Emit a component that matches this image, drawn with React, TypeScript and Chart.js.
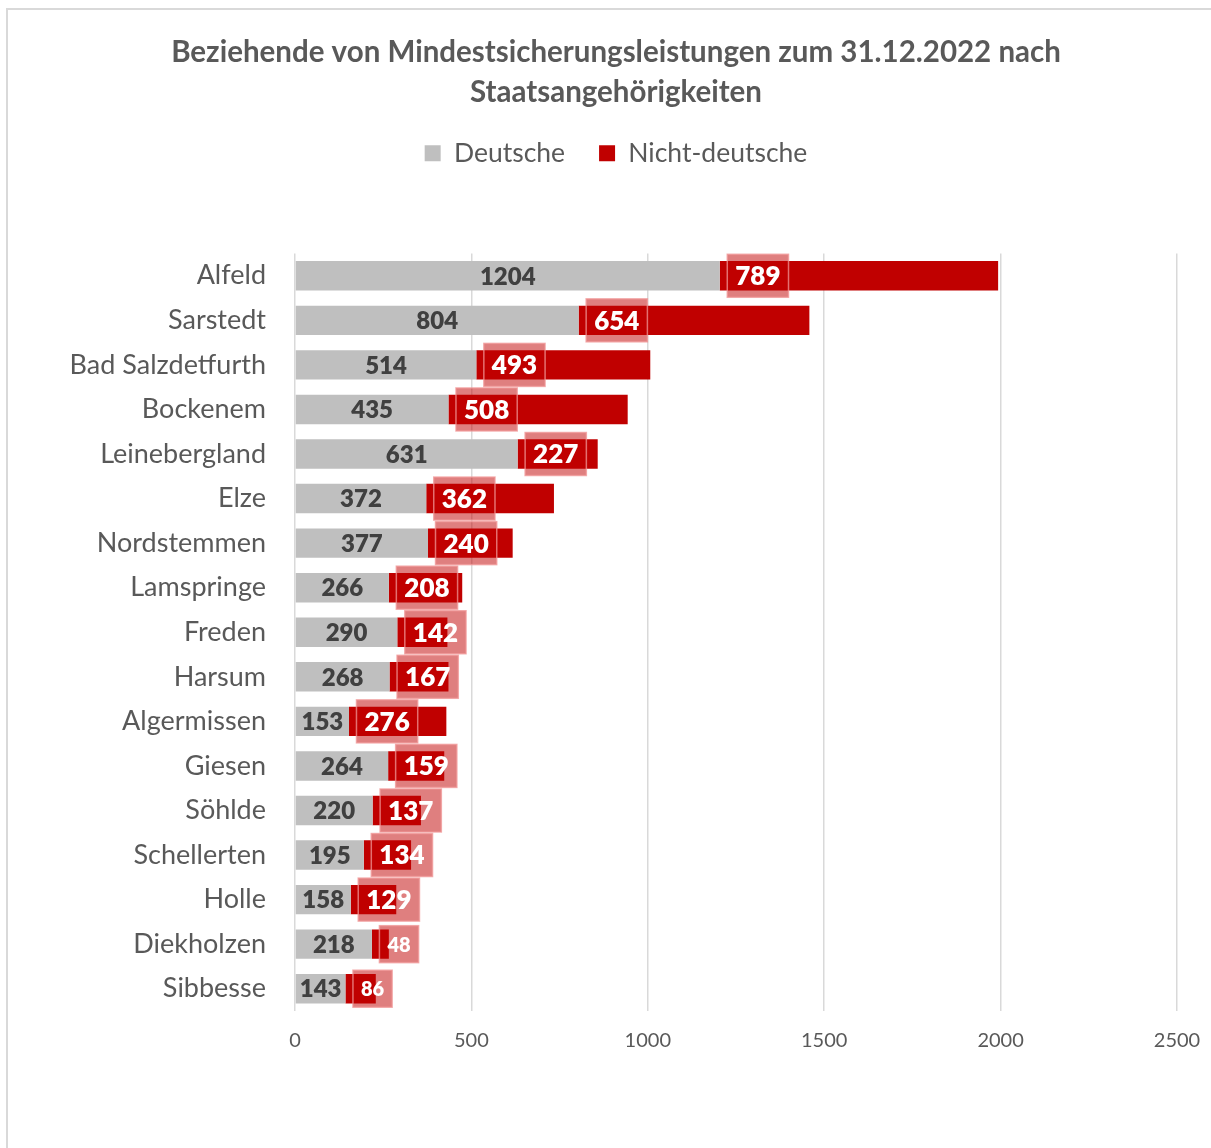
import React, { useEffect, useRef } from "react";
import { Chart, registerables } from "chart.js";

Chart.register(...registerables);

const categories = [
  "Alfeld",
  "Sarstedt",
  "Bad Salzdetfurth",
  "Bockenem",
  "Leinebergland",
  "Elze",
  "Nordstemmen",
  "Lamspringe",
  "Freden",
  "Harsum",
  "Algermissen",
  "Giesen",
  "Söhlde",
  "Schellerten",
  "Holle",
  "Diekholzen",
  "Sibbesse",
];

const deutsche = [1204, 804, 514, 435, 631, 372, 377, 266, 290, 268, 153, 264, 220, 195, 158, 218, 143];
const nichtDeutsche = [789, 654, 493, 508, 227, 362, 240, 208, 142, 167, 276, 159, 137, 134, 129, 48, 86];

const xMin = 0;
const xMax = 2500;
const xStep = 500;

const titleLines = [
  "Beziehende von Mindestsicherungsleistungen zum 31.12.2022 nach",
  "Staatsangehörigkeiten",
];
const seriesNames = ["Deutsche", "Nicht-deutsche"];

const FONT = "Lato";
const GRAY = "#bfbfbf";
const RED = "#c00000";
const TEXT = "#595959";

const labelPlugin = {
  id: "barLabels",
  afterDatasetsDraw(chart: any) {
    const ctx = chart.ctx;
    const m0 = chart.getDatasetMeta(0);
    const m1 = chart.getDatasetMeta(1);
    ctx.save();
    ctx.textBaseline = "middle";
    ctx.textAlign = "center";
    m0.data.forEach((bar: any, i: number) => {
      const p = bar.getProps(["x", "y", "base"], true);
      ctx.font = `800 24px ${FONT}`;
      ctx.fillStyle = "#404040";
      ctx.fillText(String(deutsche[i]), (p.x + p.base) / 2, p.y + 1);
    });
    m1.data.forEach((bar: any, i: number) => {
      const p = bar.getProps(["x", "y", "base"], true);
      const v = nichtDeutsche[i];
      const fs = v < 100 ? 20 : 26;
      ctx.font = `800 ${fs}px ${FONT}`;
      const tw = ctx.measureText(String(v)).width;
      const padX = 8;
      const w = tw + 2 * padX;
      const h = fs + 17;
      const left = p.base + 7.5;
      ctx.fillStyle = "rgba(192,0,0,0.5)";
      ctx.fillRect(left, p.y - h / 2, w, h);
      ctx.strokeStyle = "rgba(240,150,150,0.75)";
      ctx.lineWidth = 1.5;
      ctx.strokeRect(left, p.y - h / 2, w, h);
      ctx.fillStyle = "#ffffff";
      ctx.fillText(String(v), left + w / 2, p.y + 1);
    });
    ctx.restore();
  },
};

export default function App() {
  const canvasRef = useRef<HTMLCanvasElement | null>(null);

  useEffect(() => {
    let chart: Chart | null = null;
    let cancelled = false;
    const build = () => {
      if (cancelled || !canvasRef.current) return;
      chart = new Chart(canvasRef.current, {
        type: "bar",
        data: {
          labels: categories,
          datasets: [
            {
              label: seriesNames[0],
              data: deutsche,
              backgroundColor: GRAY,
              borderWidth: 0,
              barPercentage: 0.66,
              categoryPercentage: 1,
            },
            {
              label: seriesNames[1],
              data: nichtDeutsche,
              backgroundColor: RED,
              borderWidth: 0,
              barPercentage: 0.66,
              categoryPercentage: 1,
            },
          ],
        },
        options: {
          indexAxis: "y",
          responsive: false,
          animation: false,
          devicePixelRatio: 1,
          layout: { padding: { left: 55, right: 55, top: 0, bottom: 77 } },
          plugins: {
            title: {
              display: true,
              text: titleLines,
              color: TEXT,
              font: { family: FONT, size: 29.5, weight: "bold", lineHeight: 40 / 29.5 },
              padding: { top: 32, bottom: -6 },
            },
            legend: {
              display: true,
              position: "top",
              labels: {
                boxWidth: 16,
                boxHeight: 16,
                color: TEXT,
                font: { family: FONT, size: 26.5 },
                padding: 34,
              },
            },
            tooltip: { enabled: false },
          },
          scales: {
            x: {
              type: "linear",
              stacked: true,
              min: xMin,
              max: xMax,
              ticks: {
                stepSize: xStep,
                color: TEXT,
                font: { family: FONT, size: 20 },
                padding: 18,
                callback: (v: any) => String(v),
              },
              grid: { color: "#d9d9d9", lineWidth: 1.5, drawTicks: false },
              border: { display: false },
            },
            spacer: {
              type: "linear",
              position: "top",
              display: true,
              ticks: { display: false },
              grid: { display: false, drawTicks: false },
              border: { display: false },
              afterFit: (s: any) => {
                s.height = 77;
              },
            },
            y: {
              stacked: true,
              ticks: {
                color: TEXT,
                font: { family: FONT, size: 27 },
                padding: 29,
              },
              grid: { display: false, drawTicks: false },
              border: { display: false },
              afterFit: (s: any) => {
                s.width = 240;
              },
            },
          },
        },
        plugins: [labelPlugin],
      } as any);
    };
    const fontsReady = (document as any).fonts
      ? Promise.all([
          (document as any).fonts.load(`bold 24px ${FONT}`),
          (document as any).fonts.load(`800 24px ${FONT}`),
          (document as any).fonts.load(`24px ${FONT}`),
        ]).catch(() => null)
      : Promise.resolve(null);
    fontsReady.then(build);
    return () => {
      cancelled = true;
      if (chart) chart.destroy();
    };
  }, []);

  return (
    <div style={{ position: "fixed", left: 0, top: 0, width: 1211, height: 1148, overflow: "hidden", background: "#fff" }}>
      <div
        style={{
          position: "absolute",
          left: 6,
          top: 8,
          width: 1300,
          height: 1300,
          borderLeft: "2px solid #d9d9d9",
          borderTop: "2px solid #d9d9d9",
        }}
      />
      <canvas
        ref={canvasRef}
        width={1232}
        height={1148}
        style={{ position: "absolute", left: 0, top: 0, width: 1232, height: 1148 }}
      />
    </div>
  );
}
